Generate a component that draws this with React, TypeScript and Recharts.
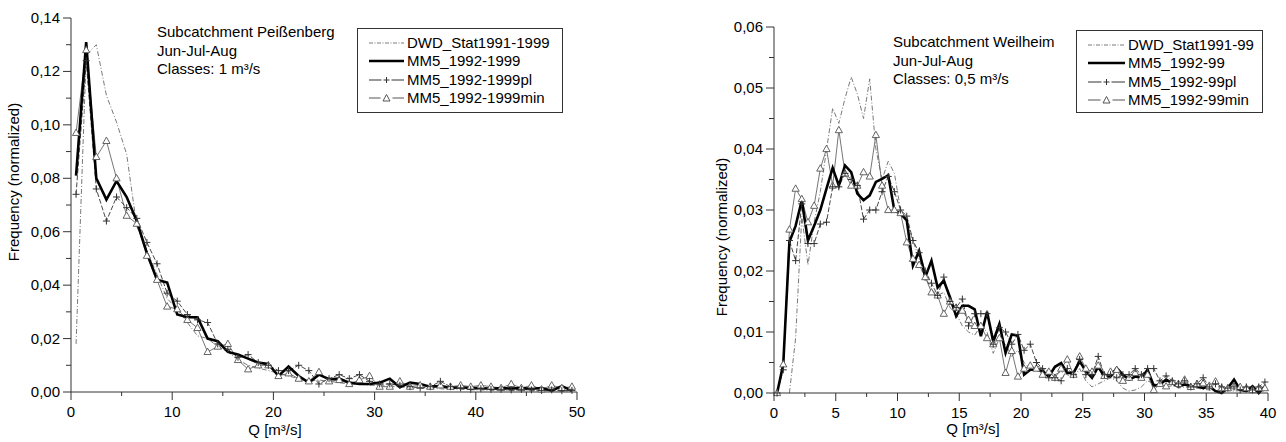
import React from 'react';
import { LineChart, Line, XAxis, YAxis } from 'recharts';

// --- Peißenberg (classes 1 m³/s) ---
const qLeft = [
  0.5, 1.5, 2.5, 3.5, 4.5, 5.5, 6.5, 7.5, 8.5, 9.5,
  10.5, 11.5, 12.5, 13.5, 14.5, 15.5, 16.5, 17.5, 18.5, 19.5,
  20.5, 21.5, 22.5, 23.5, 24.5, 25.5, 26.5, 27.5, 28.5, 29.5,
  30.5, 31.5, 32.5, 33.5, 34.5, 35.5, 36.5, 37.5, 38.5, 39.5,
  40.5, 41.5, 42.5, 43.5, 44.5, 45.5, 46.5, 47.5, 48.5, 49.5,
];
const dwdLeft = [
  0.018, 0.126, 0.130, 0.111, 0.101, 0.089, 0.062, 0.053, 0.044, 0.035,
  0.031, 0.026, 0.021, 0.020, 0.017, 0.015, 0.012, 0.010, 0.009, 0.008,
  0.007, 0.006, 0.005, 0.004, 0.0045, 0.004, 0.0035, 0.003, 0.003, 0.0025,
  0.0025, 0.002, 0.002, 0.0015, 0.0015, 0.0012, 0.0012, 0.001, 0.001, 0.0008,
  0.0008, 0.0006, 0.0006, 0.0005, 0.0005, 0.0004, 0.0004, 0.0003, 0.0003, 0.0002,
];
const mm5Left = [
  0.081, 0.131, 0.080, 0.072, 0.079, 0.073, 0.064, 0.052, 0.042, 0.041,
  0.029, 0.028, 0.028, 0.020, 0.019, 0.015, 0.014, 0.0125, 0.011, 0.0105,
  0.006, 0.0095, 0.006, 0.0035, 0.0065, 0.0048, 0.005, 0.0035, 0.003, 0.003,
  0.0035, 0.005, 0.0018, 0.0035, 0.003, 0.002, 0.0022, 0.0015, 0.0018, 0.0015,
  0.0015, 0.0012, 0.0015, 0.0013, 0.0015, 0.0012, 0.0015, 0.0005, 0.0022, 0.0005,
];
const plLeft = [
  0.074, 0.124, 0.076, 0.064, 0.073, 0.069, 0.065, 0.056, 0.048, 0.037,
  0.034, 0.029, 0.027, 0.026, 0.018, 0.016, 0.013, 0.014, 0.011, 0.010,
  0.008, 0.008, 0.010, 0.008, 0.003, 0.005, 0.0065, 0.005, 0.0065, 0.004,
  0.003, 0.003, 0.0025, 0.002, 0.0015, 0.002, 0.004, 0.002, 0.0015, 0.001,
  0.0012, 0.001, 0.001, 0.0008, 0.001, 0.0008, 0.0006, 0.0008, 0.0005, 0.0006,
];
const minLeft = [
  0.097, 0.128, 0.088, 0.094, 0.080, 0.066, 0.063, 0.051, 0.042, 0.032,
  0.031, 0.027, 0.024, 0.015, 0.017, 0.018, 0.012, 0.0085, 0.010, 0.010,
  0.006, 0.007, 0.005, 0.004, 0.0075, 0.004, 0.0045, 0.003, 0.0045, 0.006,
  0.002, 0.002, 0.004, 0.002, 0.0025, 0.002, 0.0025, 0.002, 0.0025, 0.002,
  0.0025, 0.002, 0.0015, 0.003, 0.0015, 0.0025, 0.001, 0.0025, 0.0015, 0.002,
];

// --- Weilheim (classes 0.5 m³/s) ---
const qRight = [
  0.25, 0.75, 1.25, 1.75, 2.25, 2.75, 3.25, 3.75, 4.25, 4.75,
  5.25, 5.75, 6.25, 6.75, 7.25, 7.75, 8.25, 8.75, 9.25, 9.75,
  10.25, 10.75, 11.25, 11.75, 12.25, 12.75, 13.25, 13.75, 14.25, 14.75,
  15.25, 15.75, 16.25, 16.75, 17.25, 17.75, 18.25, 18.75, 19.25, 19.75,
  20.25, 20.75, 21.25, 21.75, 22.25, 22.75, 23.25, 23.75, 24.25, 24.75,
  25.25, 25.75, 26.25, 26.75, 27.25, 27.75, 28.25, 28.75, 29.25, 29.75,
  30.25, 30.75, 31.25, 31.75, 32.25, 32.75, 33.25, 33.75, 34.25, 34.75,
  35.25, 35.75, 36.25, 36.75, 37.25, 37.75, 38.25, 38.75, 39.25, 39.75,
];
const dwdRight = [
  null, null, 0, 0.009, 0.029, 0.021, 0.028, 0.033, 0.0398, 0.0467,
  0.0442, 0.0483, 0.0518, 0.049, 0.045, 0.0515, 0.040, 0.035, 0.038, 0.036,
  0.030, 0.028, 0.025, 0.022, 0.019, 0.017, 0.016, 0.0165, 0.014, 0.013,
  0.011, 0.010, 0.0095, 0.011, 0.010, 0.0065, 0.009, 0.008, 0.006, 0.007,
  0.005, 0.004, 0.0045, 0.004, 0.0035, 0.003, 0.0035, 0.003, 0.0025, 0.004,
  0.002, 0.001, 0.0015, 0.002, 0.0025, 0.002, 0.0008, 0.0003, 0.0005, 0.001,
  0.002, 0.0015, 0.0015, 0.001, 0.0012, 0.0008, 0.001, 0.0008, 0.0008, 0.0006,
  0.0005, 0.0004, 0.0005, 0.0004, 0.0003, 0.0004, 0.0003, 0.0003, 0.0002, 0.0003,
];
const mm5Right = [
  0, 0.0047, 0.0248, 0.0274, 0.0316, 0.025, 0.0274, 0.030, 0.0335, 0.0369,
  0.034, 0.0373, 0.0362, 0.0327, 0.0316, 0.0324, 0.0346, 0.0351, 0.0357, 0.0299,
  0.0294, 0.0283, 0.0209, 0.0233, 0.019, 0.0217, 0.0173, 0.0184, 0.0157, 0.0126,
  0.0143, 0.0143, 0.0137, 0.0093, 0.0133, 0.0085, 0.0113, 0.0066, 0.0096, 0.0094,
  0.003, 0.0038, 0.0038, 0.0036, 0.0027, 0.0043, 0.0049, 0.0033, 0.0033, 0.0052,
  0.0036, 0.0025, 0.0043, 0.0027, 0.0027, 0.0041, 0.003, 0.0022, 0.0027, 0.0025,
  0.0038, 0.0012, 0.0014, 0.0022, 0.0016, 0.0011, 0.0014, 0.0011, 0.0011, 0.0008,
  0.0011, 0.0003, 0, 0.0008, 0.0022, 0.0005, 0.0003, 0.0011, 0, 0.0011,
];
const plRight = [
  0, 0.0038, 0.025, 0.0217, 0.031, 0.0245, 0.0245, 0.0277, 0.028, 0.0338,
  0.0338, 0.036, 0.035, 0.034, 0.0285, 0.030, 0.030, 0.033, 0.0355, 0.033,
  0.030, 0.029, 0.025, 0.023, 0.020, 0.018, 0.016, 0.019, 0.015, 0.014,
  0.0154, 0.011, 0.013, 0.013, 0.013, 0.008, 0.0107, 0.010, 0.008, 0.0096,
  0.007, 0.008, 0.005, 0.004, 0.0025, 0.0025, 0.002, 0.004, 0.003, 0.0055,
  0.003, 0.003, 0.006, 0.003, 0.003, 0.0025, 0.003, 0.003, 0.004, 0.003,
  0.004, 0.004, 0.002, 0.0028, 0.002, 0.0015, 0.002, 0.001, 0.0015, 0.0025,
  0.001, 0.0015, 0.001, 0.0008, 0.001, 0.0005, 0.001, 0.0005, 0.001, 0.0018,
];
const minRight = [
  0, 0.0047, 0.0268, 0.0335, 0.0318, 0.028, 0.0307, 0.0368, 0.040, 0.034,
  0.0431, 0.036, 0.034, 0.034, 0.0362, 0.0355, 0.0423, 0.034, 0.030, 0.030,
  0.0295, 0.0247, 0.022, 0.021, 0.019, 0.0165, 0.016, 0.013, 0.015, 0.014,
  0.0135, 0.012, 0.011, 0.011, 0.009, 0.008, 0.009, 0.0033, 0.0069, 0.0027,
  0.004, 0.0045, 0.004, 0.003, 0.0035, 0.0025, 0.004, 0.0055, 0.003, 0.006,
  0.004, 0.0035, 0.0045, 0.0028, 0.0035, 0.0038, 0.002, 0.0025, 0.0033, 0.0025,
  0.003, 0.0005, 0.0015, 0.0011, 0.0018, 0.0015, 0.0022, 0.001, 0.0015, 0.0016,
  0.0012, 0.0019, 0.0008, 0.0008, 0.0011, 0.001, 0.0008, 0.0005, 0.0008, 0.0008,
];

const xTicksLeft = [0, 5, 10, 15, 20, 25, 30, 35, 40, 45, 50];
const yTicksLeft = [0, 0.01, 0.02, 0.03, 0.04, 0.05, 0.06, 0.07, 0.08, 0.09, 0.1, 0.11, 0.12, 0.13, 0.14];
const xTicksRight = [0, 2.5, 5, 7.5, 10, 12.5, 15, 17.5, 20, 22.5, 25, 27.5, 30, 32.5, 35, 37.5, 40];
const yTicksRight = [0, 0.005, 0.01, 0.015, 0.02, 0.025, 0.03, 0.035, 0.04, 0.045, 0.05, 0.055, 0.06];

const legendLeft = ['DWD_Stat1991-1999', 'MM5_1992-1999', 'MM5_1992-1999pl', 'MM5_1992-1999min'];
const legendRight = ['DWD_Stat1991-99', 'MM5_1992-99', 'MM5_1992-99pl', 'MM5_1992-99min'];
const notesLeft = ['Subcatchment Peißenberg', 'Jun-Jul-Aug', 'Classes: 1 m³/s'];
const notesRight = ['Subcatchment Weilheim', 'Jun-Jul-Aug', 'Classes: 0,5 m³/s'];

const FONT = '"Liberation Sans", Arial, Helvetica, sans-serif';
const AXIS = '#333';

const toRows = (q: number[], dwd: (number | null)[], mm5: number[], pl: number[], mn: number[]) =>
  q.map((v, i) => ({ q: v, dwd: dwd[i], mm5: mm5[i], pl: pl[i], min: mn[i] }));

const isMult = (v: number, step: number) => Math.abs(v / step - Math.round(v / step)) < 1e-6;
const fmt = (v: number) => v.toFixed(2).replace('.', ',');

const PlusDot = (props: any) => {
  const { cx, cy, index } = props;
  if (cx == null || cy == null) return <g key={`p${index}`} />;
  return (
    <path key={`p${index}`} d={`M${cx - 3.5},${cy}H${cx + 3.5}M${cx},${cy - 3.5}V${cy + 3.5}`} stroke="#333" strokeWidth={1} fill="none" />
  );
};

const TriDot = (props: any) => {
  const { cx, cy, index } = props;
  if (cx == null || cy == null) return <g key={`t${index}`} />;
  return (
    <path key={`t${index}`} d={`M${cx},${cy - 3.8}L${cx + 3.6},${cy + 2.6}L${cx - 3.6},${cy + 2.6}Z`} stroke="#555" strokeWidth={0.9} fill="#fff" />
  );
};

type PanelProps = {
  left: number;
  width: number;
  right: number;
  top: number;
  bottom: number;
  axisX: number;
  rows: any[];
  xMax: number;
  xTicks: number[];
  xMajor: number;
  yMax: number;
  yTicks: number[];
  yMajor: number;
};

const Panel = ({ left, width, right, top, bottom, axisX, rows, xMax, xTicks, xMajor, yMax, yTicks, yMajor }: PanelProps) => {
  const yTick = (p: any) => {
    const major = isMult(p.payload.value, yMajor);
    return (
      <g key={`y${p.index}`}>
        <line x1={axisX - (major ? 8 : 5)} x2={axisX} y1={p.y} y2={p.y} stroke={AXIS} />
        {major && (
          <text x={axisX - 11} y={p.y} dy={5} textAnchor="end" fontSize={15} fontFamily={FONT} fill="#000">
            {fmt(p.payload.value)}
          </text>
        )}
      </g>
    );
  };
  const xTick = (p: any) => {
    const major = isMult(p.payload.value, xMajor);
    return (
      <g key={`x${p.index}`}>
        <line x1={p.x} x2={p.x} y1={bottom} y2={bottom + (major ? 8 : 4)} stroke={AXIS} />
        {major && (
          <text x={p.x} y={bottom + 25} textAnchor="middle" fontSize={15} fontFamily={FONT} fill="#000">
            {p.payload.value}
          </text>
        )}
      </g>
    );
  };
  return (
    <div style={{ position: 'absolute', left, top: 0 }}>
      <LineChart width={width} height={442} data={rows} margin={{ top, right, bottom: 0, left: 0 }}>
        <XAxis
          type="number"
          dataKey="q"
          domain={[0, xMax]}
          ticks={xTicks}
          interval={0}
          height={442 - bottom}
          tickLine={false}
          axisLine={{ stroke: AXIS }}
          tick={xTick}
        />
        <YAxis
          type="number"
          domain={[0, yMax]}
          ticks={yTicks}
          interval={0}
          width={axisX}
          tickLine={false}
          axisLine={{ stroke: AXIS }}
          tick={yTick}
        />
        <Line dataKey="dwd" stroke="#7a7a7a" strokeWidth={1} strokeDasharray="5 2 1 2" dot={false} activeDot={false} isAnimationActive={false} />
        <Line dataKey="min" stroke="#666" strokeWidth={0.9} dot={TriDot} activeDot={false} isAnimationActive={false} />
        <Line dataKey="pl" stroke="#333" strokeWidth={0.9} strokeDasharray="5 2" dot={PlusDot} activeDot={false} isAnimationActive={false} />
        <Line dataKey="mm5" stroke="#000" strokeWidth={2.6} dot={false} activeDot={false} isAnimationActive={false} />
      </LineChart>
    </div>
  );
};

const LegendBox = ({ x, y, w, h, names, sample }: { x: number; y: number; w: number; h: number; names: string[]; sample: number }) => (
  <div
    style={{
      position: 'absolute', left: x, top: y, width: w, height: h, boxSizing: 'border-box',
      border: '1px solid #333', background: '#fff', padding: '5px 0 0 11px', fontFamily: FONT, fontSize: 15,
    }}
  >
    {names.map((n, i) => (
      <div key={n} style={{ display: 'flex', alignItems: 'center', height: 18.3, lineHeight: '18px' }}>
        <svg width={sample} height={12} style={{ marginRight: 3 }}>
          {i === 0 && <line x1={0} x2={sample} y1={6} y2={6} stroke="#7a7a7a" strokeDasharray="4 1.5 1 1.5" />}
          {i === 1 && <line x1={0} x2={sample} y1={6} y2={6} stroke="#000" strokeWidth={2.6} />}
          {i === 2 && (
            <g>
              <line x1={0} x2={sample} y1={6} y2={6} stroke="#333" />
              <rect x={sample / 2 - 5} y={2} width={10} height={8} fill="#fff" />
              <path d={`M${sample / 2 - 3},6H${sample / 2 + 3}M${sample / 2},3V9`} stroke="#333" />
            </g>
          )}
          {i === 3 && (
            <g>
              <line x1={0} x2={sample} y1={6} y2={6} stroke="#555" />
              <rect x={sample / 2 - 6} y={1} width={12} height={10} fill="#fff" />
              <path d={`M${sample / 2},2.5L${sample / 2 + 3.5},9L${sample / 2 - 3.5},9Z`} stroke="#555" fill="#fff" />
            </g>
          )}
        </svg>
        <span>{n}</span>
      </div>
    ))}
  </div>
);

const Notes = ({ x, y, lines }: { x: number; y: number; lines: string[] }) => (
  <div style={{ position: 'absolute', left: x, top: y, fontFamily: FONT, fontSize: 15, lineHeight: '18.5px', color: '#000' }}>
    {lines.map((l) => (
      <div key={l}>{l}</div>
    ))}
  </div>
);

const VTitle = ({ cx, cy, text }: { cx: number; cy: number; text: string }) => (
  <div
    style={{
      position: 'absolute', left: cx - 100, top: cy - 10, width: 200, height: 20, lineHeight: '20px',
      textAlign: 'center', transform: 'rotate(-90deg)', fontFamily: FONT, fontSize: 15, color: '#000',
    }}
  >
    {text}
  </div>
);

const HTitle = ({ cx, cy, text }: { cx: number; cy: number; text: string }) => (
  <div
    style={{
      position: 'absolute', left: cx - 60, top: cy - 10, width: 120, height: 20, lineHeight: '20px',
      textAlign: 'center', fontFamily: FONT, fontSize: 15, color: '#000',
    }}
  >
    {text}
  </div>
);

export default function App() {
  const rowsLeft = toRows(qLeft, dwdLeft, mm5Left, plLeft, minLeft);
  const rowsRight = toRows(qRight, dwdRight, mm5Right, plRight, minRight);
  return (
    <div style={{ position: 'absolute', left: 0, top: 0, width: 1286, height: 442, background: '#fff', overflow: 'hidden' }}>
      <Panel left={0} width={600} right={23} top={18} bottom={392} axisX={71} rows={rowsLeft} xMax={50} xTicks={xTicksLeft} xMajor={10} yMax={0.14} yTicks={yTicksLeft} yMajor={0.02} />
      <Panel left={700} width={586} right={18} top={27} bottom={393} axisX={74} rows={rowsRight} xMax={40} xTicks={xTicksRight} xMajor={5} yMax={0.06} yTicks={yTicksRight} yMajor={0.01} />
      <Notes x={157} y={23} lines={notesLeft} />
      <Notes x={893} y={33} lines={notesRight} />
      <LegendBox x={357} y={28} w={206} h={85} names={legendLeft} sample={35} />
      <LegendBox x={1076} y={30} w={187} h={83} names={legendRight} sample={37} />
      <VTitle cx={14} cy={182} text="Frequency (normalized)" />
      <VTitle cx={722} cy={237} text="Frequency (normalized)" />
      <HTitle cx={275} cy={430} text="Q [m³/s]" />
      <HTitle cx={973} cy={429} text="Q [m³/s]" />
    </div>
  );
}
